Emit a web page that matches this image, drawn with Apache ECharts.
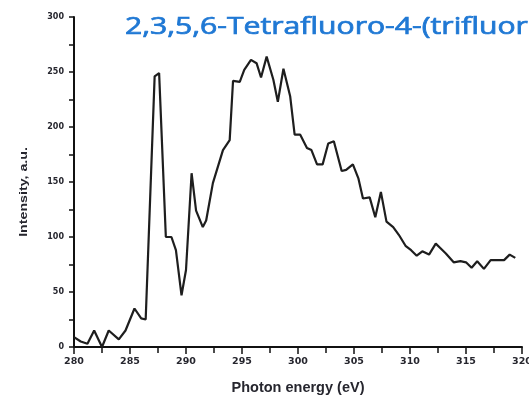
<!DOCTYPE html>
<html>
<head>
<meta charset="utf-8">
<script src="https://cdn.jsdelivr.net/npm/echarts@6/dist/echarts.min.js"></script>
<style>
  html, body { margin: 0; padding: 0; background: #fff; }
  #chart { width: 529px; height: 398px; }
</style>
</head>
<body>
<div id="chart"></div>
<script>
// NEXAFS spectrum: photon energy (eV) vs. intensity (a.u.)
const titleText = '2,3,5,6-Tetrafluoro-4-(trifluoromethyl)';
const xAxisName = 'Photon energy (eV)';
const yAxisName = 'Intensity, a.u.';

const energy = [
  280.0, 280.6, 281.2, 281.8, 282.5, 283.1, 284.0, 284.6, 285.4, 286.0,
  286.4, 287.2, 287.6, 288.2, 288.7, 289.1, 289.6, 290.0, 290.5, 290.9,
  291.5, 291.8, 292.4, 293.3, 293.9, 294.2, 294.8, 295.2, 295.8, 296.3,
  296.7, 297.2, 297.8, 298.2, 298.7, 299.3, 299.7, 300.2, 300.8, 301.2,
  301.7, 302.2, 302.7, 303.2, 303.9, 304.3, 304.9, 305.4, 305.8, 306.4,
  306.9, 307.4, 307.9, 308.5, 309.0, 309.6, 310.1, 310.6, 311.1, 311.7,
  312.3, 312.7, 313.2, 313.9, 314.5, 315.0, 315.5, 316.0, 316.6, 317.2,
  317.8, 318.4, 318.9, 319.4
];
const intensity = [
  9, 5, 3, 15, 0, 15, 7, 15, 35, 26,
  25, 246, 249, 100, 100, 88, 47, 70, 158, 124,
  109, 115, 149, 179, 188, 242, 241, 252, 261, 258,
  245, 264, 243, 223, 253, 228, 193, 193, 181, 179,
  166, 166, 185, 187, 160, 161, 166, 153, 135, 136,
  118, 141, 114, 109, 102, 92, 88, 83, 87, 84,
  94, 90, 85, 77, 78, 77, 72, 78, 71, 79,
  79, 79, 84, 81
];

const xTicks = { min: 280, max: 320, step: 5 };
const yTicks = { min: 0, max: 300, step: 50 };

const points = energy.map((e, i) => [e, intensity[i]]);

const titleColor = '#1f78d4';
const labelColor = '#26262e';
const axisStroke = { color: '#111', width: 2 };
const tickStroke = { color: '#111', width: 1.5 };

const chart = echarts.init(document.getElementById('chart'), null, { renderer: 'canvas' });
chart.setOption({
  animation: false,
  backgroundColor: '#ffffff',
  grid: { left: 74, right: 7, top: 17, bottom: 51, outerBoundsMode: 'none', containLabel: false },
  graphic: [
    {
      // heading, stretched wide
      type: 'text',
      x: 125,
      y: 27,
      scaleX: 1.31,
      style: {
        text: titleText,
        x: 0,
        y: 0,
        fill: titleColor,
        stroke: titleColor,
        lineWidth: 0.7,
        fontFamily: 'Open Sans',
        fontSize: 23,
        align: 'left',
        verticalAlign: 'middle'
      }
    },
    {
      // vertical axis title
      type: 'text',
      x: 24,
      y: 192,
      rotation: Math.PI / 2,
      scaleX: 1.42,
      style: {
        text: yAxisName,
        x: 0,
        y: 0,
        fill: labelColor,
        fontFamily: 'Liberation Sans',
        fontWeight: 'bold',
        fontSize: 10,
        align: 'center',
        verticalAlign: 'middle'
      }
    }
  ],
  xAxis: {
    type: 'value',
    min: xTicks.min,
    max: xTicks.max,
    interval: xTicks.step,
    name: xAxisName,
    nameLocation: 'middle',
    nameGap: 33,
    nameTextStyle: { fontFamily: 'Liberation Sans', fontWeight: 'bold', fontSize: 14.5, color: labelColor },
    axisLine: { onZero: false, lineStyle: axisStroke },
    axisTick: { show: true, inside: false, length: 7, lineStyle: tickStroke },
    minorTick: { show: true, splitNumber: 2, length: 6, lineStyle: tickStroke },
    axisLabel: { fontFamily: 'DejaVu Sans', fontWeight: 'bold', fontSize: 9.5, margin: 10, color: labelColor },
    splitLine: { show: false }
  },
  yAxis: {
    type: 'value',
    min: yTicks.min,
    max: yTicks.max,
    interval: yTicks.step,
    axisLine: { show: true, onZero: false, lineStyle: axisStroke },
    axisTick: { show: true, inside: false, length: 5, lineStyle: tickStroke },
    minorTick: { show: true, splitNumber: 2, length: 5, lineStyle: tickStroke },
    axisLabel: { fontFamily: 'DejaVu Sans', fontWeight: 'bold', fontSize: 8, margin: 10, color: labelColor },
    splitLine: { show: false }
  },
  series: [{
    type: 'line',
    data: points,
    showSymbol: false,
    smooth: false,
    lineStyle: { color: '#1e1e1e', width: 2.2 },
    clip: false
  }]
});
</script>
</body>
</html>
